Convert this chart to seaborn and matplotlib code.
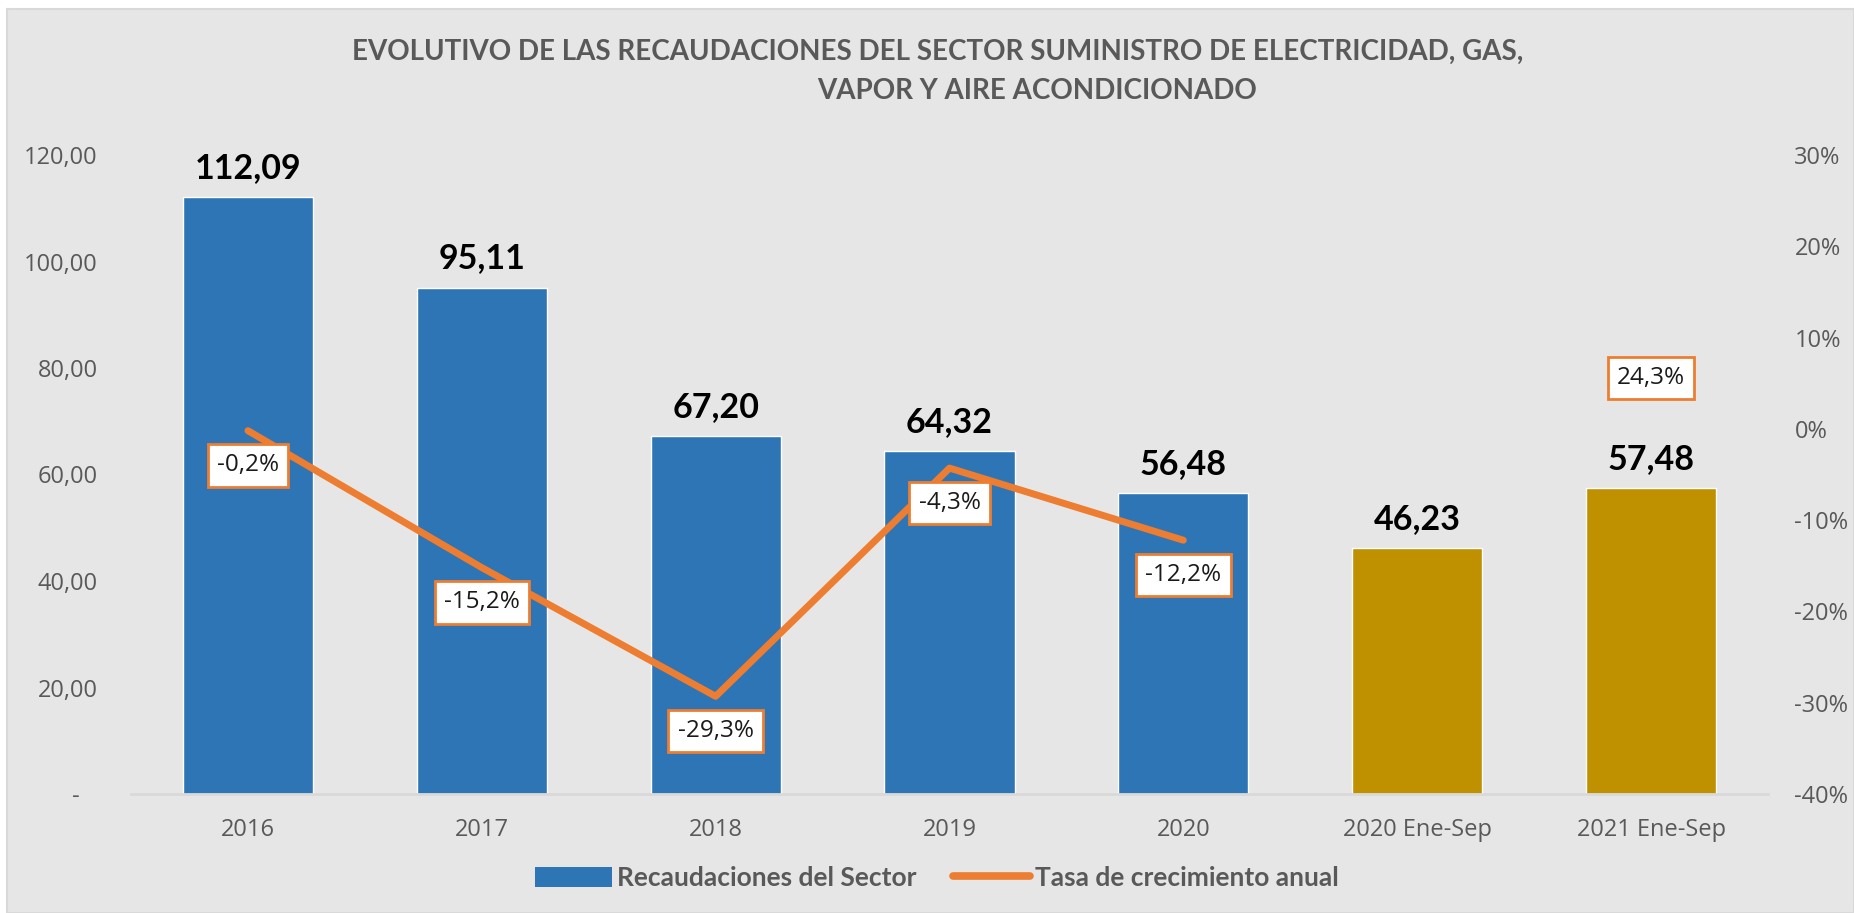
import numpy as np
import pandas as pd
import matplotlib
matplotlib.use("Agg")
import matplotlib.pyplot as plt
import seaborn as sns
from matplotlib.patches import Patch, Rectangle
from matplotlib.lines import Line2D

# Datos del gráfico
periodos = ["2016", "2017", "2018", "2019", "2020", "2020 Ene-Sep", "2021 Ene-Sep"]
recaudaciones = [112.09, 95.11, 67.20, 64.32, 56.48, 46.23, 57.48]
tipo_periodo = ["anual", "anual", "anual", "anual", "anual", "parcial", "parcial"]
tasa_crecimiento = [-0.2, -15.2, -29.3, -4.3, -12.2, np.nan, 24.3]
etiquetas_tasa = ["-0,2%", "-15,2%", "-29,3%", "-4,3%", "-12,2%", "", "24,3%"]
ticks_izq = [0, 20, 40, 60, 80, 100, 120]
etiquetas_izq = ["-   ", "20,00", "40,00", "60,00", "80,00", "100,00", "120,00"]
ticks_der = [-40, -30, -20, -10, 0, 10, 20, 30]
etiquetas_der = ["-40%", "-30%", "-20%", "-10%", "0%", "10%", "20%", "30%"]

titulo_1 = "EVOLUTIVO DE LAS RECAUDACIONES DEL SECTOR SUMINISTRO DE ELECTRICIDAD, GAS,"
titulo_2 = "VAPOR Y AIRE ACONDICIONADO"

# Estilo
AZUL = "#2E75B6"
DORADO = "#BF9000"
NARANJA = "#ED7D31"
FONDO = "#E7E6E6"
GRIS_TXT = "#595959"
desplaz_tasa = [-25, -25, -25, -25, -25, 0, -123]  # puntos, bajo cada punto

sns.set_theme(style="white")
plt.rcParams["font.family"] = ["Open Sans", "DejaVu Sans"]

W, H = 1854, 913
fig = plt.figure(figsize=(W / 100, H / 100), dpi=100, facecolor="white")
fig.patches.append(Rectangle((7 / W, 0), 1 - 7 / W, 1 - 9 / H, transform=fig.transFigure,
                             facecolor=FONDO, edgecolor="#D9D9D9", linewidth=1.5, zorder=-10))

ax = fig.add_axes([131 / W, 1 - 794 / H, 1637 / W, 639 / H])
ax.set_facecolor("none")

df = pd.DataFrame({"periodo": periodos, "valor": recaudaciones, "tipo": tipo_periodo})
paleta = {p: (AZUL if t == "anual" else DORADO) for p, t in zip(periodos, tipo_periodo)}
sns.barplot(data=df, x="periodo", y="valor", hue="periodo", palette=paleta,
            width=0.556, saturation=1, legend=False, ax=ax, zorder=2)

ax.set_xlim(-0.5, len(periodos) - 0.5)
ax.set_ylim(0, 120)
ax.set_yticks(ticks_izq)
ax.set_yticklabels(etiquetas_izq)
ax.set_xlabel("")
ax.set_ylabel("")
for s in ["top", "right", "left"]:
    ax.spines[s].set_visible(False)
ax.spines["bottom"].set_color("#D9D9D9")
ax.spines["bottom"].set_linewidth(2)
ax.tick_params(axis="y", length=0, pad=24, labelsize=17, labelcolor=GRIS_TXT)
ax.tick_params(axis="x", length=0, pad=17, labelsize=17, labelcolor=GRIS_TXT)

# etiquetas de valor sobre las barras
for i, v in enumerate(recaudaciones):
    ax.annotate(f"{v:.2f}".replace(".", ","), (i, v), xytext=(0, 21), textcoords="offset points",
                ha="center", va="center", fontsize=24.5, fontweight="bold", color="black",
                family=["Lato", "DejaVu Sans"])

# línea de tasa de crecimiento (eje derecho)
ax2 = ax.twinx()
ax2.set_facecolor("none")
x_idx = np.arange(len(periodos))
ax2.plot(x_idx, tasa_crecimiento, color=NARANJA, linewidth=5, solid_capstyle="round", zorder=3)
ax2.set_ylim(-40, 30)
ax2.set_yticks(ticks_der)
ax2.set_yticklabels(etiquetas_der)
for s in ax2.spines.values():
    s.set_visible(False)
ax2.tick_params(axis="y", length=0, pad=19, labelsize=17, labelcolor=GRIS_TXT)

for i, (t, lab) in enumerate(zip(tasa_crecimiento, etiquetas_tasa)):
    if np.isnan(t):
        continue
    ax2.annotate(lab, (i, t), xytext=(0, desplaz_tasa[i]), textcoords="offset points",
                 ha="center", va="center", fontsize=17.5, color="#1a1a1a", zorder=5,
                 bbox=dict(boxstyle="square,pad=0.38", facecolor="white",
                           edgecolor=NARANJA, linewidth=2))

# título
fig.text(938 / W, 1 - 52 / H, titulo_1, ha="center", va="center", fontsize=20,
         fontweight="bold", color=GRIS_TXT, family=["Lato", "DejaVu Sans"])
fig.text(1037 / W, 1 - 91 / H, titulo_2, ha="center", va="center", fontsize=20,
         fontweight="bold", color=GRIS_TXT, family=["Lato", "DejaVu Sans"])

# leyenda
manejadores = [Patch(facecolor=AZUL, edgecolor="none"),
               Line2D([0], [0], color=NARANJA, linewidth=5.5, solid_capstyle="round")]
fig.legend(manejadores, ["Recaudaciones del Sector", "Tasa de crecimiento anual"],
           loc="center", bbox_to_anchor=(937 / W, 1 - 878 / H), ncol=2, frameon=False,
           handlelength=2.9, handleheight=0.8, columnspacing=1.4, handletextpad=0.2,
           prop={"family": ["Lato", "DejaVu Sans"], "weight": "bold", "size": 19},
           labelcolor=GRIS_TXT)

plt.savefig("out.png", dpi=100, facecolor="white")
plt.close()
